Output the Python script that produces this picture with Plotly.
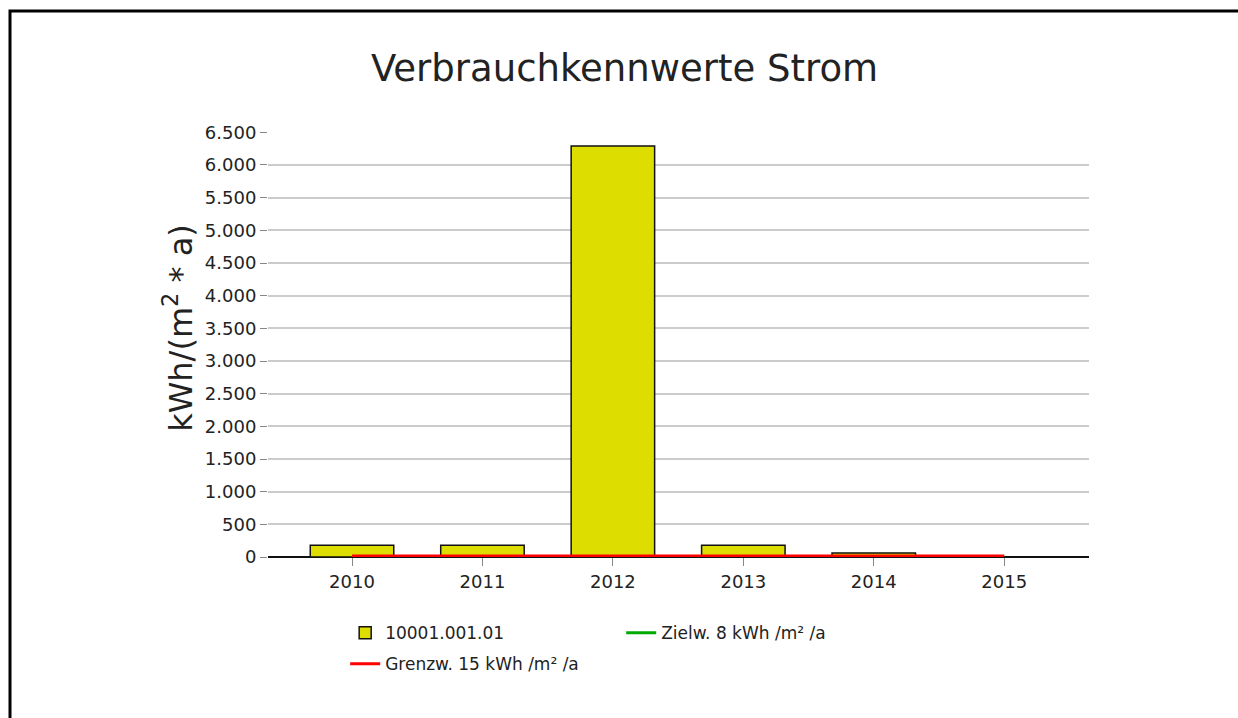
import plotly.graph_objects as go

# values
jahre = [2010, 2011, 2012, 2013, 2014, 2015]
verbrauch = [180, 180, 6290, 180, 60, None]
zielwert = [8, 8, 8, 8, 8, 8]
grenzwert = [15, 15, 15, 15, 15, 15]
y_ticks = [0, 500, 1000, 1500, 2000, 2500, 3000, 3500, 4000, 4500, 5000, 5500, 6000, 6500]

font = "DejaVu Sans"
txt = "#222222"

fig = go.Figure()

# bars first, lines on top
fig.add_trace(go.Bar(x=jahre, y=verbrauch,
                     name="10001.001.01",
                     width=0.64,
                     marker=dict(color="#DDDD00",
                                 line=dict(color="#111111", width=1.5)),
                     legend="legend"))

fig.add_trace(go.Scatter(x=jahre, y=zielwert,
                         mode="lines",
                         name="Zielw. 8 kWh /m² /a",
                         line=dict(color="#00AA00", width=3),
                         legend="legend"))

fig.add_trace(go.Scatter(x=jahre, y=grenzwert,
                         mode="lines",
                         name="Grenzw. 15 kWh /m² /a",
                         line=dict(color="#FF0000", width=3),
                         legend="legend2"))

fig.update_layout(
    width=1238, height=718,
    autosize=False,
    paper_bgcolor="white",
    plot_bgcolor="white",
    separators=",.",
    margin=dict(l=268, r=149, t=132, b=161),
    title=dict(text="Verbrauchkennwerte Strom",
               x=624.5/1238, xanchor="center",
               xref="container", yref="container",
               y=1 - 68/718, yanchor="middle",
               font=dict(family=font, size=37, color=txt)),
    font=dict(family=font, size=18, color=txt),
    xaxis=dict(range=[2009.356, 2015.65],
               tickmode="array", tickvals=jahre,
               ticktext=[str(j) for j in jahre],
               showgrid=False,
               ticks="outside", ticklen=8, tickcolor="#888888", tickwidth=1,
               showline=False, zeroline=False,
               tickfont=dict(family=font, size=18, color=txt)),
    yaxis=dict(range=[0, 6505],
               tickmode="array", tickvals=y_ticks,
               tickformat=",d",
               showgrid=True, gridcolor="#CCCCCC", gridwidth=2,
               zeroline=True, zerolinecolor="#111111", zerolinewidth=2,
               ticks="outside", ticklen=7, tickcolor="#888888", tickwidth=1,
               showline=False,
               tickfont=dict(family=font, size=18, color=txt)),
    legend=dict(orientation="h", x=0.094, xanchor="left",
                y=-0.179, yanchor="middle",
                entrywidth=231, entrywidthmode="pixels",
                bgcolor="rgba(0,0,0,0)",
                font=dict(family=font, size=17, color=txt)),
    legend2=dict(orientation="h", x=0.094, xanchor="left",
                 y=-0.252, yanchor="middle",
                 bgcolor="rgba(0,0,0,0)",
                 font=dict(family=font, size=17, color=txt)),
    showlegend=True,
    bargap=0.36,
)

# y title as annotation, sits a bit above the plot centre like the original
fig.add_annotation(text="kWh/(m<sup>2</sup> * a)",
                   xref="paper", yref="paper",
                   x=(178 - 268)/821, y=(557 - 328)/424.7,
                   xanchor="center", yanchor="middle",
                   textangle=-90, showarrow=False,
                   font=dict(family=font, size=32, color=txt))

# black frame (left and top edges visible, rest runs off the picture)
fig.add_shape(type="rect", xref="paper", yref="paper",
              x0=(10 - 268)/821, x1=(1250 - 268)/821,
              y0=-(740 - 557)/424.7, y1=1 + (132 - 11)/424.7,
              line=dict(color="black", width=3),
              fillcolor="rgba(0,0,0,0)", layer="above")

# drop the page's default 8px body margin so the figure sits at 0,0
fig.write_html("out.html", config={"displayModeBar": False},
               post_script="document.body.style.margin='0';")
